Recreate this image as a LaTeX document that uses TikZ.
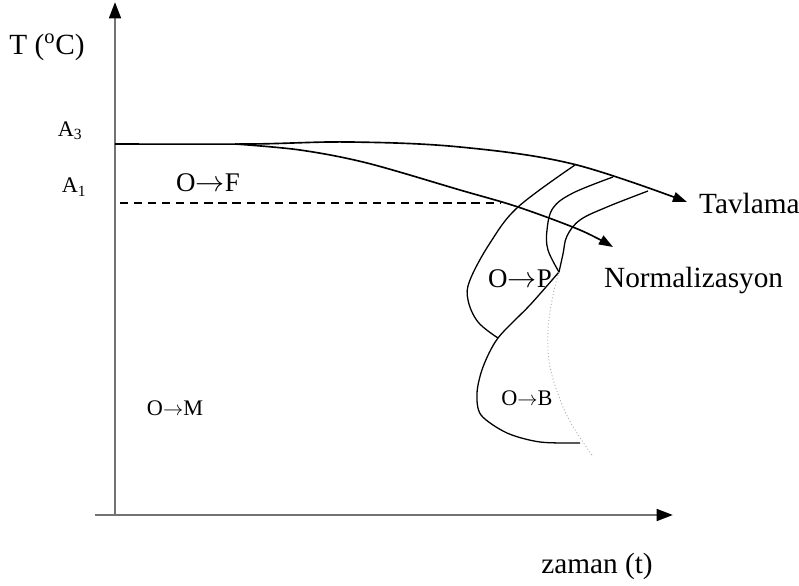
\documentclass[tikz,border=0pt]{standalone}
\usepackage{fontspec}
\setmainfont{Liberation Serif}
\usepackage{tikz}
\usetikzlibrary{arrows.meta}

\begin{document}
\begin{tikzpicture}[
    x=0.03cm, y=-0.03cm,
    axis/.style={line width=2.2pt, black!55, -{Triangle[length=14pt, width=10pt, color=black]}},
    curve/.style={line width=1.4pt, black},
    coolarrow/.style={curve, -{Triangle[length=12pt, width=8.5pt]}},
    startline/.style={line width=1.1pt, black},
    endline/.style={line width=0.8pt, gray!65, dotted},
    biglabel/.style={font=\fontsize{25}{28}\selectfont},
    midlabel/.style={font=\fontsize{23}{26}\selectfont},
    smalllabel/.style={font=\fontsize{19}{22}\selectfont}
]
\useasboundingbox (0,0) rectangle (799,586);

% === Axes ===
\coordinate (origin) at (115,515);
\coordinate (ytip) at (115,2);
\coordinate (xstart) at (95,515);
\coordinate (xtip) at (673,515);
\draw[axis] (origin) -- (ytip);
\draw[axis] (xstart) -- (xtip);

\node[biglabel] (tlabel) at (47,47) {T (\textsuperscript{o}C)};
\node[biglabel] (zaman) at (597,566) {zaman (t)};

% Critical temperatures
\node[smalllabel] (athree) at (70,131) {A\textsubscript{3}};
\node[smalllabel] (aone) at (74,187) {A\textsubscript{1}};
\coordinate (aonestart) at (120,203);
\coordinate (aoneend) at (500,203);
\draw[line width=1pt, dash pattern=on 7pt off 5pt] (aonestart) -- (aoneend);

% === Cooling curves ===
\draw[coolarrow] plot[smooth, tension=0.6] coordinates
    {(115,144) (250,144) (350,142) (460,147) (573,164) (687,202)};
\draw[coolarrow] plot[smooth, tension=0.55] coordinates
    {(235,144) (300,150) (367,163) (460,190) (518,207) (580,230) (613,247)};

% === Transformation curves ===
% start of transformation (upper nose)
\draw[startline] plot[smooth, tension=0.6] coordinates
    {(575,165) (518,207) (490,243) (470,280) (468,300) (478,322) (498,338)};
% diagonal from cusp + bainite nose
\draw[startline] plot[smooth, tension=0.5] coordinates
    {(559,272) (530,305) (498,338) (483,367) (477,393) (481,415) (507,433) (540,442) (580,443)};
% 50 percent
\draw[startline] plot[smooth, tension=0.6] coordinates
    {(613,177) (573,193) (553,208) (547,230) (548,250) (559,272)};
% end of transformation
\draw[startline] plot[smooth, tension=0.6] coordinates
    {(648,191) (607,207) (580,220) (567,236) (563,254) (559,272)};
\draw[endline] plot[smooth, tension=0.6] coordinates
    {(559,272) (553,295) (548,330) (550,367) (563,407) (577,433) (592,455)};

% === Labels ===
\node[midlabel] (of) at (208,183) {O$\rightarrow$F};
\node[midlabel] (op) at (520,279) {O$\rightarrow$P};
\node[smalllabel] (ob) at (527,398) {O$\rightarrow$B};
\node[smalllabel] (om) at (175,408) {O$\rightarrow$M};
\node[biglabel, anchor=west] (tavlama) at (695,203) {Tavlama};
\node[biglabel, anchor=west] (normal) at (600,280) {Normalizasyon};

\end{tikzpicture}
\end{document}
